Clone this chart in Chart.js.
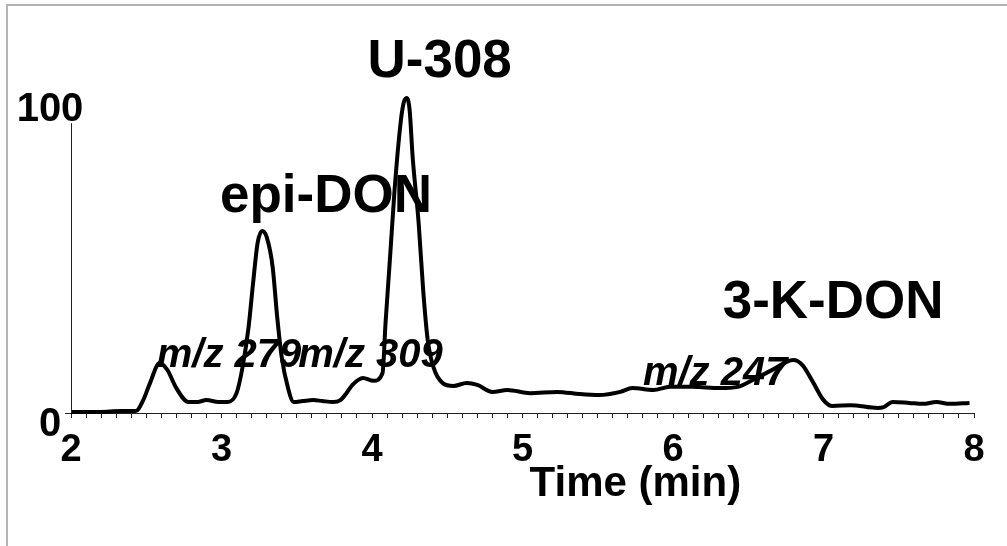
<!DOCTYPE html>
<html>
<head>
<meta charset="utf-8">
<script src="https://cdn.jsdelivr.net/npm/chart.js@4.4.1/dist/chart.umd.min.js"></script>
<style>
  body { margin: 0; background: #fff; }
  #wrap { position: relative; width: 1007px; height: 546px; overflow: hidden; }
  #frame { position: absolute; left: 6px; top: 4px; width: 1100px; height: 700px;
           border-left: 2px solid #b4b4b4; border-top: 2px solid #b4b4b4; }
  canvas { position: absolute; left: 0; top: 0; }
</style>
</head>
<body>
<div id="wrap">
  <div id="frame"></div>
  <canvas id="myChart" width="1007" height="546"></canvas>
</div>
<script>
// retention time (min) and relative intensity (%)
var time = [2.00, 2.19, 2.33, 2.43, 2.48, 2.52, 2.59, 2.64, 2.70, 2.78, 2.84, 2.90, 2.98, 3.04,
            3.10, 3.14, 3.18, 3.21, 3.24, 3.27, 3.30, 3.34, 3.37, 3.40, 3.44, 3.48, 3.54, 3.61,
            3.67, 3.74, 3.79, 3.83, 3.87, 3.94, 4.01, 4.07, 4.09, 4.12, 4.15, 4.19, 4.21, 4.23,
            4.25, 4.27, 4.31, 4.34, 4.37, 4.41, 4.47, 4.54, 4.63, 4.70, 4.80, 4.90, 5.05, 5.23,
            5.38, 5.51, 5.65, 5.73, 5.87, 5.98, 6.13, 6.31, 6.43, 6.53, 6.66, 6.80, 6.86, 6.93,
            7.00, 7.06, 7.18, 7.36, 7.40, 7.46, 7.57, 7.66, 7.75, 7.84, 7.97];
var intensity = [0.3, 0.3, 0.6, 0.6, 4.1, 8.9, 15.9, 13.7, 7.9, 3.5, 3.5, 4.1, 3.5, 3.5,
                 6.3, 14.6, 27.3, 41.3, 54.0, 57.8, 55.9, 46.3, 30.5, 17.8, 8.3, 3.5, 3.8, 4.1,
                 3.8, 3.5, 4.1, 6.3, 8.9, 11.1, 10.2, 12.7, 28.6, 49.5, 70.8, 92.1, 98.4, 100,
                 96.2, 81.3, 60.3, 39.0, 23.2, 14.3, 9.5, 8.6, 9.5, 8.9, 6.7, 7.3, 6.3, 6.7,
                 6.0, 5.7, 6.7, 7.9, 7.3, 8.3, 8.3, 7.9, 8.3, 10.5, 13.7, 16.8, 15.2, 9.8,
                 4.1, 2.2, 2.5, 1.6, 1.9, 3.5, 3.2, 2.9, 3.5, 2.9, 3.2];

var yTicks = [0, 100];
var yAxisTop = 92;

// compound names: [left time, baseline intensity]
var peakNames = ['epi-DON', 'U-308', '3-K-DON'];
var peakAt = [[2.99, 63.8], [3.97, 106.7], [6.33, 30.2]];
// ion labels
var ionNames = ['m/z 279', 'm/z 309', 'm/z 247'];
var ionAt = [[2.57, 14.6], [3.51, 14.6], [5.80, 8.9]];

var xTitle = 'Time (min)';
var xTitleAt = [5.75, -26.5];

var pts = [];
for (let i = 0; i < time.length; i++) pts.push({x: time[i], y: intensity[i]});

const extras = {
    id: 'extras',
    afterDatasetsDraw(chart) {
        const c = chart.ctx, xs = chart.scales.x, ys = chart.scales.y;
        c.save();
        // y axis line
        c.strokeStyle = '#222';
        c.lineWidth = 1;
        c.beginPath();
        c.moveTo(xs.left + 0.5, ys.getPixelForValue(0));
        c.lineTo(xs.left + 0.5, ys.getPixelForValue(yAxisTop));
        c.moveTo(xs.left - 6, ys.getPixelForValue(0) + 0.5);
        c.lineTo(xs.left, ys.getPixelForValue(0) + 0.5);
        c.stroke();

        c.fillStyle = '#000';
        // y tick labels, centred left of the axis
        c.textAlign = 'center';
        c.textBaseline = 'middle';
        c.font = 'bold 40px "Liberation Sans", Arial, sans-serif';
        yTicks.forEach(v => c.fillText(String(v), xs.left - 21, ys.getPixelForValue(v) + 12));

        c.textAlign = 'left';
        c.textBaseline = 'alphabetic';
        c.font = 'bold 53px "Liberation Sans", Arial, sans-serif';
        for (let i = 0; i < peakNames.length; i++) {
            c.fillText(peakNames[i], xs.getPixelForValue(peakAt[i][0]), ys.getPixelForValue(peakAt[i][1]));
        }
        c.font = 'italic bold 40px "Liberation Sans", Arial, sans-serif';
        for (let i = 0; i < ionNames.length; i++) {
            c.fillText(ionNames[i], xs.getPixelForValue(ionAt[i][0]), ys.getPixelForValue(ionAt[i][1]));
        }
        c.textAlign = 'center';
        c.font = 'bold 42px "Liberation Sans", Arial, sans-serif';
        c.fillText(xTitle, xs.getPixelForValue(xTitleAt[0]), ys.getPixelForValue(xTitleAt[1]));
        c.restore();
    }
};

const ctx = document.getElementById('myChart').getContext('2d');
const myChart = new Chart(ctx, {
    type: 'line',
    data: {
        datasets: [{
            data: pts,
            borderColor: '#000',
            borderWidth: 4,
            pointRadius: 0,
            fill: false,
            cubicInterpolationMode: 'monotone',
            clip: false
        }]
    },
    options: {
        responsive: false,
        animation: false,
        layout: { padding: { top: 98, right: 33, left: 0, bottom: 0 } },
        plugins: { legend: { display: false }, tooltip: { enabled: false } },
        scales: {
            x: {
                type: 'linear',
                min: 2, max: 8,
                afterFit(scale) { scale.height = 133; },
                grid: { drawOnChartArea: false, drawTicks: true, tickLength: 5, color: '#222', lineWidth: 1 },
                border: { display: true, color: '#222', width: 1 },
                ticks: {
                    stepSize: 0.1,
                    autoSkip: false,
                    maxRotation: 0,
                    padding: 10,
                    color: '#000',
                    font: { family: '"Liberation Sans", Arial, sans-serif', size: 38, weight: 'bold' },
                    callback: function (v) {
                        return Math.abs(v - Math.round(v)) < 1e-6 ? String(Math.round(v)) : '';
                    }
                }
            },
            y: {
                min: 0, max: 100,
                afterFit(scale) { scale.width = 71; },
                afterBuildTicks(scale) { scale.ticks = yTicks.map(v => ({value: v})); },
                grid: { display: false },
                border: { display: false },
                ticks: { display: false }
            }
        }
    },
    plugins: [extras]
});
</script>
</body>
</html>
